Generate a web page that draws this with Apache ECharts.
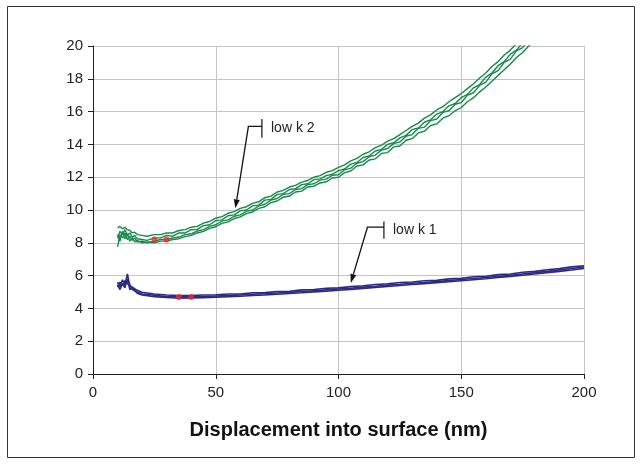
<!DOCTYPE html>
<html>
<head>
<meta charset="utf-8">
<script src="https://cdn.jsdelivr.net/npm/echarts@6/dist/echarts.min.js"></script>
<style>html,body{margin:0;padding:0;background:#fff;}#c{width:642px;height:464px;}</style>
</head>
<body>
<div id="c"></div>
<script>
// ---- data ----
var xTicks = [0, 50, 100, 150, 200];
var yTicks = [0, 2, 4, 6, 8, 10, 12, 14, 16, 18, 20];
var xName = 'Displacement into surface (nm)';

var greenX = [10,11,12,13,14,15,16,17,18,20,22,25,27.5,30,32.5,35,37.5,40,42.5,45,47.5,50,52.5,55,57.5,60,62.5,65,67.5,70,72.5,75,77.5,80,82.5,85,87.5,90,92.5,95,97.5,100,102.5,105,107.5,110,112.5,115,117.5,120,122.5,125,127.5,130,132.5,135,137.5,140,142.5,145,147.5,150,152.5,155,157.5,160,162.5,165,167.5,170,172.5,175,177.5,180];
var greenA = [8.9,9.0,8.85,8.95,8.8,8.75,8.6,8.65,8.5,8.45,8.4,8.5,8.5,8.6,8.6,8.75,8.8,8.95,9.0,9.2,9.3,9.5,9.6,9.8,9.9,10.1,10.2,10.4,10.5,10.75,10.85,11.1,11.2,11.4,11.5,11.7,11.8,12.0,12.1,12.3,12.4,12.6,12.75,13.0,13.15,13.4,13.55,13.8,13.95,14.2,14.35,14.6,14.85,15.1,15.3,15.6,15.8,16.1,16.3,16.6,16.85,17.1,17.4,17.7,18.05,18.35,18.75,19.05,19.45,19.75,20.15,20.45,20.85,21.1];
var greenB = [8.3,8.7,8.5,8.8,8.45,8.6,8.35,8.45,8.25,8.2,8.15,8.3,8.3,8.45,8.4,8.6,8.6,8.8,8.82,9.05,9.1,9.35,9.4,9.65,9.7,9.95,10.0,10.25,10.3,10.6,10.65,10.95,11.0,11.25,11.3,11.55,11.6,11.85,11.9,12.1,12.18,12.4,12.5,12.8,12.9,13.2,13.3,13.6,13.7,14.0,14.1,14.4,14.55,14.9,15.0,15.35,15.5,15.85,16.0,16.35,16.5,16.85,17.05,17.45,17.65,18.1,18.35,18.8,19.05,19.5,19.75,20.2,20.45,20.9];
var greenC = [7.75,8.5,8.3,8.6,8.2,8.4,8.15,8.3,8.05,8.1,8.0,8.1,8.2,8.2,8.3,8.35,8.5,8.55,8.72,8.8,9.0,9.1,9.32,9.4,9.62,9.7,9.92,10.0,10.25,10.35,10.6,10.7,10.95,11.0,11.25,11.3,11.55,11.6,11.82,11.88,12.12,12.15,12.45,12.55,12.85,12.95,13.25,13.35,13.65,13.75,14.05,14.15,14.5,14.6,14.98,15.05,15.45,15.55,15.95,16.05,16.45,16.55,17.0,17.15,17.6,17.8,18.3,18.5,19.0,19.2,19.7,19.9,20.4,20.6];
var greenD = [8.5,8.1,8.7,8.25,8.55,8.1,8.3,8.05,8.15,8.0,8.05,8.0,8.1,8.1,8.2,8.25,8.38,8.45,8.6,8.7,8.88,8.98,9.18,9.28,9.48,9.58,9.78,9.88,10.1,10.2,10.45,10.55,10.78,10.85,11.1,11.15,11.4,11.45,11.65,11.72,11.95,12.0,12.28,12.38,12.68,12.75,13.05,13.12,13.45,13.5,13.85,13.9,14.25,14.35,14.7,14.8,15.15,15.25,15.6,15.75,16.05,16.25,16.6,16.85,17.2,17.5,17.85,18.2,18.55,18.9,19.3,19.6,20.0,20.35];

var blueX = [10,11,12,13,14,15,16,18,20,25,30,35,40,45,50,55,60,65,70,75,80,85,90,95,100,105,110,115,120,125,130,135,140,145,150,155,160,165,170,175,180,185,190,195,200];
var blueA = [5.6,5.3,5.75,5.4,6.1,5.35,5.3,5.1,4.98,4.88,4.82,4.78,4.78,4.82,4.83,4.88,4.88,4.95,4.96,5.03,5.05,5.13,5.15,5.23,5.25,5.33,5.38,5.46,5.5,5.58,5.61,5.69,5.71,5.8,5.83,5.93,5.96,6.06,6.1,6.2,6.26,6.36,6.43,6.53,6.6];
var blueB = [5.3,5.6,5.4,5.7,5.5,5.45,5.15,5.0,4.88,4.8,4.72,4.7,4.7,4.72,4.76,4.78,4.82,4.86,4.9,4.94,4.98,5.03,5.08,5.13,5.18,5.23,5.3,5.35,5.42,5.47,5.53,5.58,5.64,5.7,5.76,5.82,5.88,5.95,6.02,6.1,6.18,6.26,6.35,6.43,6.52];
var blueC = [5.45,5.15,5.5,5.25,5.8,5.15,5.25,4.92,4.82,4.72,4.66,4.62,4.64,4.66,4.69,4.72,4.74,4.79,4.82,4.86,4.91,4.95,5.01,5.05,5.11,5.16,5.22,5.28,5.34,5.4,5.46,5.51,5.57,5.63,5.69,5.75,5.81,5.88,5.95,6.02,6.1,6.18,6.26,6.34,6.44];

var redX = [25, 30, 35, 40];
var redY = [8.2, 8.2, 4.7, 4.7];

var labels = ['low k 2', 'low k 1'];
var tipX = [58, 105];
var tipY = [10.1, 5.55];
var cornerX = [63.3, 111.8];
var cornerY = [15.1, 8.95];
var barTopY = [15.55, 9.3];
var barBotY = [14.4, 8.25];
var barX = [68.8, 118.5];
var labelX = [72.5, 122.2];
var labelY = [15.0, 8.75];

// ---- chart ----
function pairs(xs, ys) { return xs.map(function (x, i) { return [x, ys[i]]; }); }
var GREEN = '#15894a';
var BLUE = '#2b2b86';
function lineSeries(xs, ys, color, w) {
  return { type: 'line', data: pairs(xs, ys), showSymbol: false, symbol: 'none', clip: true,
    lineStyle: { color: color, width: w }, itemStyle: { color: color }, z: 3, silent: true };
}
var chart = echarts.init(document.getElementById('c'), null, { renderer: 'canvas' });
var font = 'Liberation Sans, Arial, sans-serif';
chart.setOption({
  animation: false,
  backgroundColor: '#fff',
  grid: { left: 93, right: 58, top: 46, bottom: 90, containLabel: false },
  xAxis: {
    type: 'value', min: xTicks[0], max: xTicks[xTicks.length - 1], interval: 50,
    name: xName, nameLocation: 'middle', nameGap: 46,
    nameTextStyle: { fontFamily: font, fontWeight: 'bold', fontSize: 20, color: '#111' },
    axisLine: { lineStyle: { color: '#222', width: 1 } },
    axisTick: { show: true, length: 5, lineStyle: { color: '#222' } },
    axisLabel: { fontFamily: font, fontSize: 15, color: '#222', margin: 11 },
    splitLine: { show: true, lineStyle: { color: '#c4c4c4', width: 1 } }
  },
  yAxis: {
    type: 'value', min: yTicks[0], max: yTicks[yTicks.length - 1], interval: 2,
    axisLine: { show: true, lineStyle: { color: '#222', width: 1 } },
    axisTick: { show: true, length: 5, lineStyle: { color: '#222' } },
    axisLabel: { fontFamily: font, fontSize: 15, color: '#222', margin: 10 },
    splitLine: { show: true, lineStyle: { color: '#c4c4c4', width: 1 } }
  },
  series: [
    lineSeries(greenX, greenA, GREEN, 1.4),
    lineSeries(greenX, greenB, GREEN, 1.4),
    lineSeries(greenX, greenC, GREEN, 1.4),
    lineSeries(greenX, greenD, GREEN, 1.4),
    lineSeries(blueX, blueA, BLUE, 1.6),
    lineSeries(blueX, blueB, BLUE, 1.6),
    lineSeries(blueX, blueC, BLUE, 1.6),
    { type: 'scatter', data: pairs(redX, redY), symbol: 'circle', symbolSize: 6,
      itemStyle: { color: '#ee2a2a' }, z: 5, silent: true }
  ]
});

var g = [{ type: 'rect', shape: { x: 7.5, y: 6.5, width: 627, height: 451 },
  style: { fill: null, stroke: '#333', lineWidth: 1 }, silent: true, z: 100 }];
for (var i = 0; i < labels.length; i++) {
  var tip = chart.convertToPixel({ gridIndex: 0 }, [tipX[i], tipY[i]]);
  var cor = chart.convertToPixel({ gridIndex: 0 }, [cornerX[i], cornerY[i]]);
  var bt = chart.convertToPixel({ gridIndex: 0 }, [barX[i], barTopY[i]]);
  var bb = chart.convertToPixel({ gridIndex: 0 }, [barX[i], barBotY[i]]);
  var lb = chart.convertToPixel({ gridIndex: 0 }, [labelX[i], labelY[i]]);
  var dx = tip[0] - cor[0], dy = tip[1] - cor[1];
  var len = Math.sqrt(dx * dx + dy * dy); var ux = dx / len, uy = dy / len;
  var hl = 9, hw = 3;
  var bx = tip[0] - ux * hl, by = tip[1] - uy * hl;
  g.push({ type: 'polyline', shape: { points: [[bt[0], cor[1]], cor, [bx, by]] },
    style: { stroke: '#111', lineWidth: 1.3, fill: null }, z: 100 });
  g.push({ type: 'line', shape: { x1: bt[0], y1: bt[1], x2: bb[0], y2: bb[1] },
    style: { stroke: '#111', lineWidth: 1.2 }, z: 100 });
  g.push({ type: 'polygon', shape: { points: [tip, [bx - uy * hw, by + ux * hw], [bx + uy * hw, by - ux * hw]] },
    style: { fill: '#111' }, z: 100 });
  g.push({ type: 'text', x: lb[0], y: lb[1],
    style: { text: labels[i], font: '14px ' + font, fill: '#222', textAlign: 'left', textVerticalAlign: 'middle' }, z: 100 });
}
chart.setOption({ graphic: g });
</script>
</body>
</html>
